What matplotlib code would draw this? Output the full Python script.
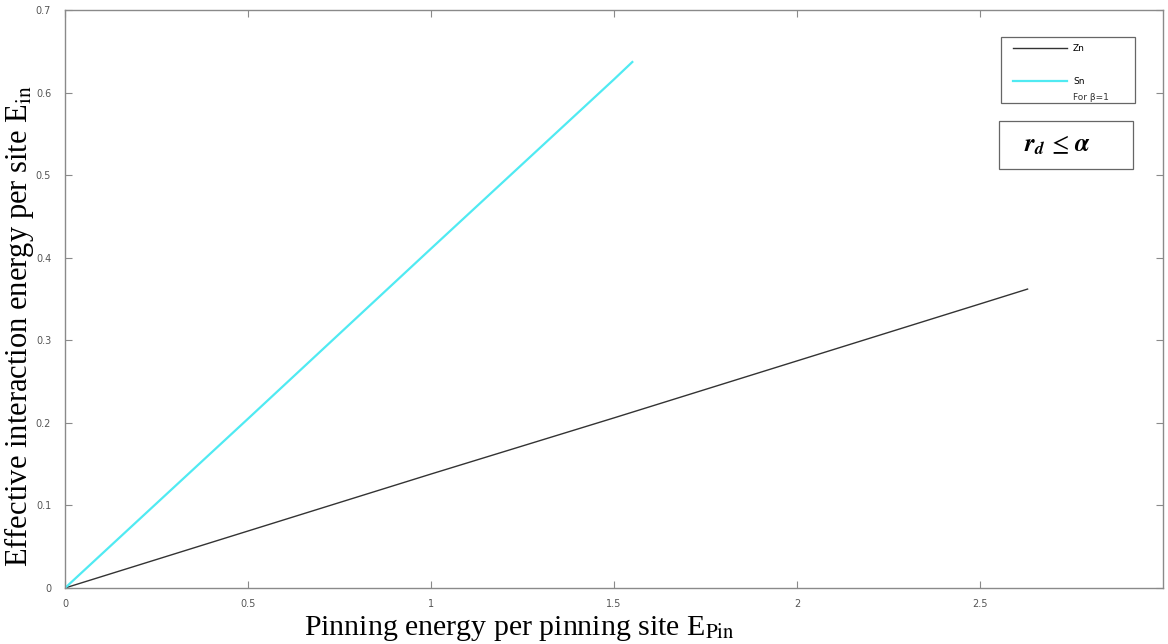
import numpy as np
import matplotlib.pyplot as plt
from matplotlib.patches import Rectangle

# === data ===
zn_x = [0, 0.5, 1.0, 1.5, 2.0, 2.5, 2.63]
zn_y = [0, 0.069, 0.138, 0.206, 0.275, 0.344, 0.362]
sn_x = [0, 0.5, 1.0, 1.5, 1.55]
sn_y = [0, 0.205, 0.411, 0.616, 0.637]

x_ticks = [0, 0.5, 1, 1.5, 2, 2.5]
x_tick_labels = ['0', '0.5', '1', '1.5', '2', '2.5']
y_ticks = [0, 0.1, 0.2, 0.3, 0.4, 0.5, 0.6, 0.7]
y_tick_labels = ['0', '0.1', '0.2', '0.3', '0.4', '0.5', '0.6', '0.7']

plt.rcParams['mathtext.fontset'] = 'stix'

fig = plt.figure(figsize=(11.68, 6.44), dpi=100)
ax = fig.add_axes([0.0557, 0.087, 0.94, 0.8975])

ax.plot(zn_x, zn_y, color='#333333', lw=1.0, label='Zn')
ax.plot(sn_x, sn_y, color='#50eaf2', lw=1.6, label='Sn')

ax.set_xlim(0, 3)
ax.set_ylim(0, 0.7)
ax.set_xticks(x_ticks)
ax.set_xticklabels(x_tick_labels)
ax.set_yticks(y_ticks)
ax.set_yticklabels(y_tick_labels)

# MATLAB-ish box with inward ticks
for s in ax.spines.values():
    s.set_color('#8a8a8a')
    s.set_linewidth(1.0)
ax.tick_params(direction='in', length=5, width=0.8, color='#8a8a8a',
               labelcolor='#555555', labelsize=7, top=True, right=True, pad=8)
ax.tick_params(axis='y', pad=10)

ax.set_xlabel(r'Pinning energy per pinning site E$_{\mathrm{Pin}}$',
              family='Liberation Serif', fontsize=21.5)
ax.xaxis.set_label_coords(0.414, -0.045)
ax.set_ylabel(r'Effective interaction energy per site E$_{\mathrm{in}}$',
              family='Liberation Serif', fontsize=22)
ax.yaxis.set_label_coords(-0.0262, 0.453)

# legend (frame drawn separately so the extra note fits inside)
ax.add_patch(Rectangle((0.8525, 0.839), 0.122, 0.114, transform=ax.transAxes,
                       fill=True, facecolor='white', edgecolor='#666666',
                       lw=0.9, zorder=4))
leg = ax.legend(loc='upper left', bbox_to_anchor=(0.859, 0.949),
                fontsize=6.5, frameon=False, handlelength=6, labelspacing=2.7,
                borderpad=0.5, borderaxespad=0, handletextpad=0.67)
leg.set_zorder(5)
ax.text(0.918, 0.849, 'For β=1', transform=ax.transAxes, fontsize=6.5,
        color='#333333', va='center', ha='left', zorder=6)

# condition box
ax.add_patch(Rectangle((0.851, 0.725), 0.1215, 0.083, transform=ax.transAxes,
                       fill=True, facecolor='white', edgecolor='#666666',
                       lw=0.9, zorder=4))
ax.text(0.904, 0.766, r'$\mathbfit{r_d}\,\leq\,\mathbfit{\alpha}$',
        transform=ax.transAxes, fontsize=18, ha='center', va='center', zorder=6)

plt.savefig('out.png', dpi=100)
plt.close()
